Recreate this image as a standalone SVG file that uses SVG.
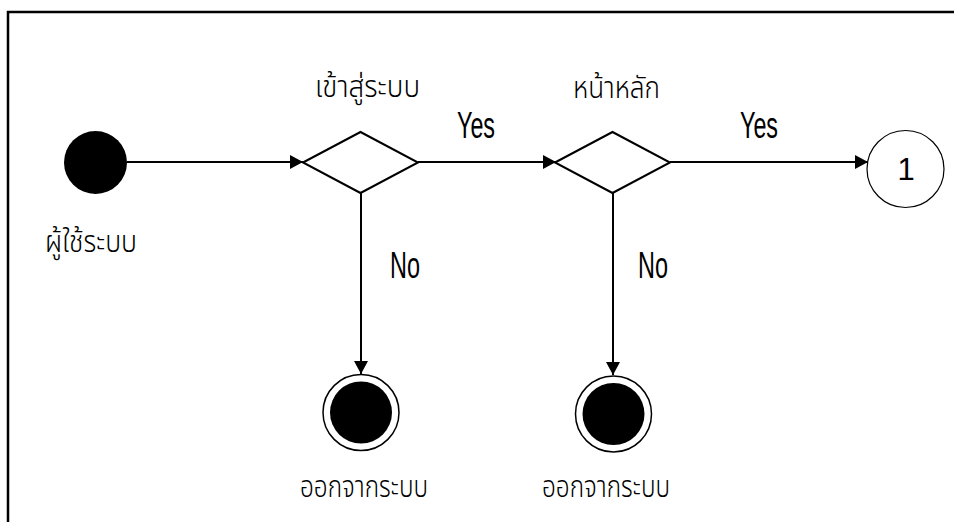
<svg xmlns="http://www.w3.org/2000/svg" width="954" height="522" viewBox="0 0 954 522">
<style>
.thai{font-family:"Noto Sans Thai","Noto Sans Thai Looped","Waree","Loma","Noto Sans",sans-serif;font-size:31px;font-weight:300;fill:#000;text-anchor:middle}
.lbl{font-family:"Liberation Sans Narrow","Liberation Sans",sans-serif;font-size:36px;fill:#000;text-anchor:middle}
.ln{stroke:#000;stroke-width:2;fill:none}
.dia{stroke:#000;stroke-width:2;fill:#fff}
</style>
<defs>
<marker id="ah" markerWidth="14" markerHeight="14" refX="13" refY="7" orient="auto" markerUnits="userSpaceOnUse">
<path d="M0,0 L13,7 L0,14 z" fill="#000"/>
</marker>
</defs>
<rect x="0" y="0" width="954" height="522" fill="#fff"/>
<rect x="8" y="12" width="960" height="530" fill="none" stroke="#000" stroke-width="2.5"/>
<g id="connectors">
<line class="ln" x1="127" y1="162" x2="303" y2="162" marker-end="url(#ah)"/>
<line class="ln" x1="418" y1="162" x2="556" y2="162" marker-end="url(#ah)"/>
<line class="ln" x1="670" y1="162" x2="868" y2="162" marker-end="url(#ah)"/>
<line class="ln" x1="361" y1="193" x2="361" y2="374" marker-end="url(#ah)"/>
<line class="ln" x1="613" y1="193" x2="613" y2="375" marker-end="url(#ah)"/>
<text class="lbl" x="476" y="138" textLength="38" lengthAdjust="spacingAndGlyphs">Yes</text>
<text class="lbl" x="759" y="138" textLength="38" lengthAdjust="spacingAndGlyphs">Yes</text>
<text class="lbl" x="405" y="278" textLength="30" lengthAdjust="spacingAndGlyphs">No</text>
<text class="lbl" x="653" y="278" textLength="30" lengthAdjust="spacingAndGlyphs">No</text>
</g>
<g id="start">
<circle cx="95.5" cy="162.5" r="31.5" fill="#000"/>
<text class="thai" x="91" y="252" textLength="92" lengthAdjust="spacingAndGlyphs">ผู้ใช้ระบบ</text>
</g>
<g id="login">
<polygon class="dia" points="303,162.5 360.5,132 418,162.5 360.5,193"/>
<text class="thai" x="367.5" y="97" textLength="105" lengthAdjust="spacingAndGlyphs">เข้าสู่ระบบ</text>
</g>
<g id="home">
<polygon class="dia" points="555,162.5 612.5,132 670,162.5 612.5,193"/>
<text class="thai" x="616.5" y="98" textLength="87" lengthAdjust="spacingAndGlyphs">หน้าหลัก</text>
</g>
<g id="connector1">
<circle cx="905.5" cy="169" r="38.5" fill="#fff" stroke="#000" stroke-width="1.2"/>
<text x="906" y="180" font-family="'Liberation Sans',sans-serif" font-size="31" text-anchor="middle">1</text>
</g>
<g id="end1">
<circle cx="361" cy="412.5" r="38" fill="#fff" stroke="#000" stroke-width="1.5"/>
<circle cx="361" cy="412.5" r="31" fill="#000"/>
<text class="thai" x="364" y="497" textLength="128" lengthAdjust="spacingAndGlyphs">ออกจากระบบ</text>
</g>
<g id="end2">
<circle cx="613.5" cy="414" r="38" fill="#fff" stroke="#000" stroke-width="1.5"/>
<circle cx="613.5" cy="414" r="31" fill="#000"/>
<text class="thai" x="606" y="497" textLength="128" lengthAdjust="spacingAndGlyphs">ออกจากระบบ</text>
</g>
</svg>
